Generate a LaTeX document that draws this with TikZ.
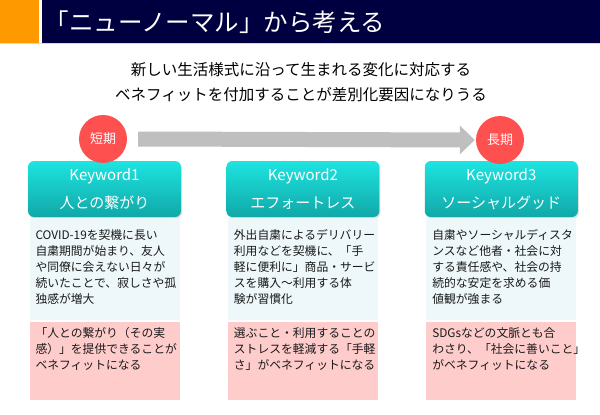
\documentclass[tikz,border=0pt]{standalone}
\usepackage{fontspec}
\setmainfont{Noto Sans CJK JP}
\usetikzlibrary{arrows.meta,positioning,shadows}
\definecolor{navybar}{RGB}{0,0,64}
\definecolor{orangetab}{RGB}{255,153,0}
\definecolor{termred}{RGB}{255,80,80}
\definecolor{arrowgray}{RGB}{191,191,191}
\definecolor{tealtop}{RGB}{30,228,224}
\definecolor{tealbot}{RGB}{16,168,168}
\definecolor{paleblue}{RGB}{238,248,250}
\definecolor{palepink}{RGB}{255,204,204}
\newcommand{\fs}[2]{\fontsize{#1}{#2}\selectfont}

\begin{document}
\begin{tikzpicture}[x=1pt,y=-1pt, node distance=1pt and 45pt,
 term/.style={circle,fill=termred,minimum size=48pt,inner sep=0pt,text=white,font=\fs{13}{13}},
 keybox/.style={rounded corners=6pt,top color=tealtop,bottom color=tealbot,minimum width=153pt,minimum height=56pt,
   align=center,text=white,font=\fs{15}{28},drop shadow={shadow xshift=1pt,shadow yshift=-1.5pt,opacity=0.25}},
 infobox/.style={fill=paleblue,minimum width=150pt,minimum height=102pt,inner sep=0pt},
 benefit/.style={fill=palepink,minimum width=150pt,minimum height=78pt,inner sep=0pt},
 bodytext/.style={anchor=north west,inner sep=0pt,align=left,text=black!90,font=\fs{11.8}{16}}]
\useasboundingbox (0,0) rectangle (600,415);
% title bar
\fill[orangetab] (0,0) rectangle (39,43);
\fill[navybar] (42,0) rectangle (600,43);
\draw[black!15] (0,43.5) -- (600,43.5);
\node[anchor=west,text=white,font=\fs{24.5}{24.5}] (title) at (41,22) {「ニューノーマル」から考える};
\node[align=center,font=\fs{15.5}{25}] (sub) at (301,82.5) {新しい生活様式に沿って生まれる変化に対応する\\ベネフィットを付加することが差別化要因になりうる};

% keywords
\node[keybox] (kw1) at (104.5,189) {Keyword1\\人との繋がり};
\node[keybox, right=of kw1] (kw2) {Keyword2\\エフォートレス};
\node[keybox, right=of kw2] (kw3) {Keyword3\\ソーシャルグッド};

% time line
\node[term] (short) at (103,139) {短期};
\node[term] (long) at (500,140) {長期};
\draw[arrowgray,line width=15pt,-{Triangle[length=15pt,width=28pt]}] ([xshift=11pt]short.east) -- ([xshift=-1pt]long.west);

% background texts
\node[infobox, below=1pt of kw1] (bg1) {};
\node[infobox, below=1pt of kw2] (bg2) {};
\node[infobox, below=1pt of kw3] (bg3) {};
\node[benefit, below=1pt of bg1] (bn1) {};
\node[benefit, below=1pt of bg2] (bn2) {};
\node[benefit, below=1pt of bg3] (bn3) {};

\node[bodytext] (tx1) at ([xshift=6pt,yshift=-11pt]bg1.north west) {COVID-19を契機に長い\\自粛期間が始まり、友人\\や同僚に会えない日々が\\続いたことで、寂しさや孤\\独感が増大};
\node[bodytext] (tx2) at ([xshift=6pt,yshift=-11pt]bg2.north west) {外出自粛によるデリバリー\\利用などを契機に、「手\\軽に便利に」商品・サービ\\スを購入～利用する体\\験が習慣化};
\node[bodytext] (tx3) at ([xshift=6pt,yshift=-11pt]bg3.north west) {自粛やソーシャルディスタ\\ンスなど他者・社会に対\\する責任感や、社会の持\\続的な安定を求める価\\値観が強まる};

\node[bodytext] (bt1) at ([xshift=6pt,yshift=-6pt]bn1.north west) {「人との繋がり（その実\\感）」を提供できることが\\ベネフィットになる};
\node[bodytext] (bt2) at ([xshift=6pt,yshift=-6pt]bn2.north west) {選ぶこと・利用することの\\ストレスを軽減する「手軽\\さ」がベネフィットになる};
\node[bodytext] (bt3) at ([xshift=6pt,yshift=-6pt]bn3.north west) {SDGsなどの文脈とも合\\わさり、「社会に善いこと」\\がベネフィットになる};
\end{tikzpicture}
\end{document}
